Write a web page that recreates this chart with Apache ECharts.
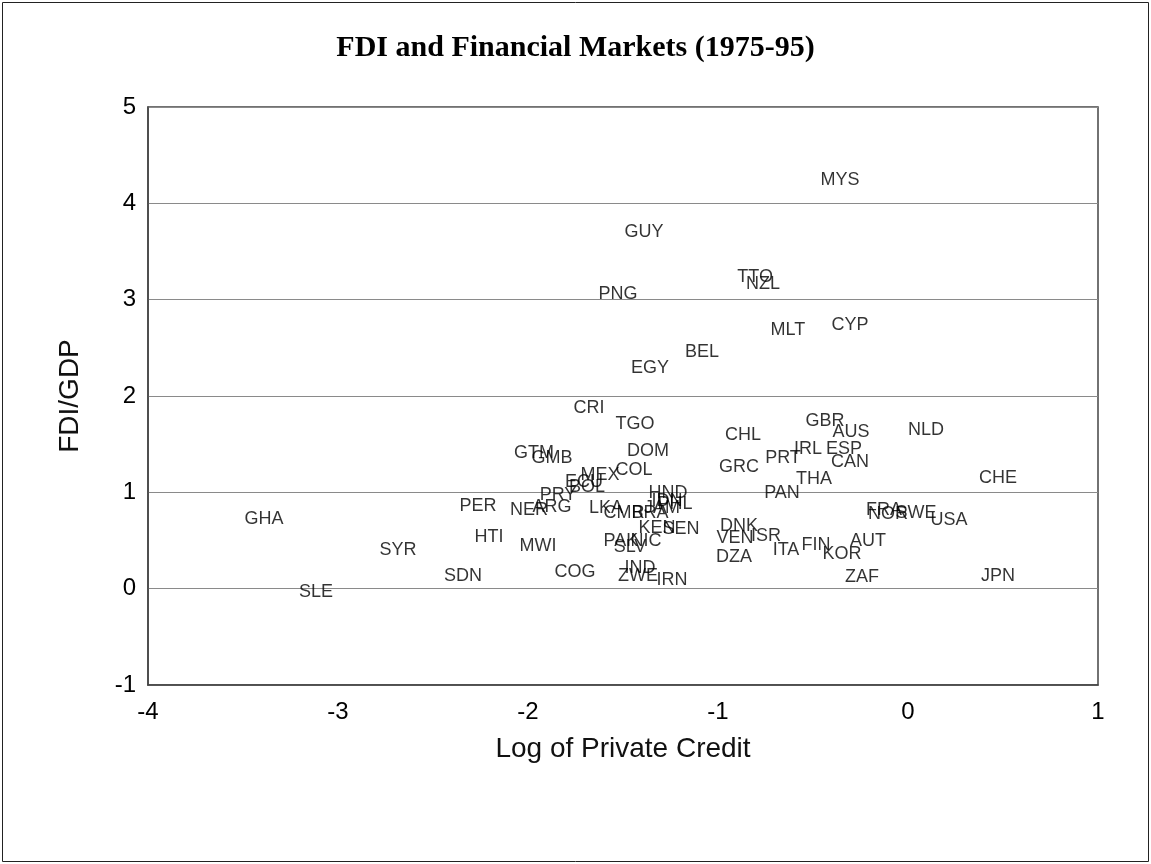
<!DOCTYPE html>
<html>
<head>
<meta charset="utf-8">
<script src="https://cdn.jsdelivr.net/npm/echarts@6/dist/echarts.min.js"></script>
<style>
  html, body { margin: 0; padding: 0; background: #fff; }
  #chart { width: 1151px; height: 864px; }
</style>
</head>
<body>
<div id="chart"></div>
<script>
// country codes and their (log private credit, FDI/GDP) values
const countries = ["MYS", "GUY", "TTO", "NZL", "PNG", "MLT", "CYP", "BEL", "EGY", "CRI",
  "TGO", "GBR", "AUS", "NLD", "CHL", "DOM", "IRL", "ESP", "GTM", "GMB",
  "PRT", "CAN", "GRC", "COL", "MEX", "THA", "CHE", "ECU", "BOL", "PAN",
  "HND", "PRY", "IDN", "PHL", "PER", "ARG", "LKA", "JAM", "NER", "FRA",
  "CMR", "BRA", "NOR", "SWE", "GHA", "USA", "DNK", "KEN", "SEN", "ISR",
  "HTI", "VEN", "PAK", "NIC", "AUT", "FIN", "MWI", "SLV", "ITA", "SYR",
  "KOR", "DZA", "IND", "COG", "JPN", "ZWE", "SDN", "ZAF", "IRN", "SLE"];
const privateCredit = [-0.358, -1.389, -0.805, -0.763, -1.526, -0.632, -0.305, -1.084, -1.358, -1.679,
  -1.437, -0.437, -0.300, 0.095, -0.868, -1.368, -0.526, -0.337, -1.968, -1.874,
  -0.658, -0.305, -0.889, -1.442, -1.621, -0.495, 0.474, -1.705, -1.689, -0.663,
  -1.263, -1.842, -1.268, -1.226, -2.263, -1.874, -1.589, -1.295, -1.995, -0.126,
  -1.495, -1.358, -0.105, 0.042, -3.389, 0.216, -0.889, -1.321, -1.195, -0.747,
  -2.205, -0.911, -1.511, -1.379, -0.211, -0.484, -1.947, -1.463, -0.642, -2.684,
  -0.347, -0.916, -1.411, -1.753, 0.474, -1.421, -2.342, -0.242, -1.242, -3.116];
const fdiGdp = [4.24, 3.70, 3.23, 3.16, 3.06, 2.68, 2.74, 2.46, 2.29, 1.88,
  1.71, 1.74, 1.63, 1.65, 1.60, 1.43, 1.45, 1.45, 1.41, 1.36,
  1.36, 1.31, 1.26, 1.23, 1.18, 1.14, 1.15, 1.11, 1.05, 0.99,
  0.99, 0.97, 0.91, 0.88, 0.86, 0.85, 0.84, 0.84, 0.82, 0.82,
  0.78, 0.78, 0.77, 0.78, 0.72, 0.71, 0.65, 0.63, 0.62, 0.55,
  0.54, 0.53, 0.49, 0.49, 0.49, 0.45, 0.44, 0.43, 0.40, 0.40,
  0.36, 0.33, 0.21, 0.17, 0.13, 0.13, 0.13, 0.12, 0.09, -0.03];

const xTicks = [-4, -3, -2, -1, 0, 1];
const yTicks = [-1, 0, 1, 2, 3, 4, 5];

const points = countries.map((c, i) => ({ name: c, value: [privateCredit[i], fdiGdp[i]] }));

const chart = echarts.init(document.getElementById("chart"), null, { renderer: "canvas" });

const sans = "Liberation Sans, Arial, sans-serif";

const option = {
  backgroundColor: "#fff",
  animation: false,
  title: {
    text: "FDI and Financial Markets (1975-95)",
    left: "center",
    top: 28,
    textStyle: {
      fontFamily: "Liberation Serif, Times New Roman, serif",
      fontWeight: "bold",
      fontSize: 30,
      color: "#000"
    }
  },
  grid: {
    left: 148,
    right: 53,
    top: 107,
    bottom: 179,
    show: true,
    borderColor: "#444",
    borderWidth: 1.5,
    containLabel: false
  },
  xAxis: {
    type: "value",
    min: xTicks[0],
    max: xTicks[xTicks.length - 1],
    interval: 1,
    name: "Log of Private Credit",
    nameLocation: "middle",
    nameGap: 50,
    nameTextStyle: { fontFamily: sans, fontSize: 28, color: "#111" },
    axisLine: { show: true, onZero: false, lineStyle: { color: "#444", width: 1.5 } },
    axisTick: { show: false },
    splitLine: { show: false },
    axisLabel: { fontFamily: sans, fontSize: 24, color: "#000", margin: 15 }
  },
  yAxis: {
    type: "value",
    min: yTicks[0],
    max: yTicks[yTicks.length - 1],
    interval: 1,
    name: "FDI/GDP",
    nameLocation: "middle",
    nameGap: 64,
    nameTextStyle: { fontFamily: sans, fontSize: 28, color: "#111" },
    axisLine: { show: true, onZero: false, lineStyle: { color: "#444", width: 1.5 } },
    axisTick: { show: false },
    splitLine: { show: true, lineStyle: { color: "#8a8a8a", width: 1 } },
    axisLabel: { fontFamily: sans, fontSize: 24, color: "#000", margin: 12 }
  },
  series: [
    {
      type: "scatter",
      data: points,
      symbolSize: 1,
      itemStyle: { color: "rgba(0,0,0,0)" },
      label: {
        show: true,
        position: "inside",
        formatter: (p) => p.name,
        fontFamily: sans,
        fontSize: 18,
        color: "#000"
      },
      labelLayout: { hideOverlap: false }
    }
  ],
  graphic: [
    {
      type: "rect",
      shape: { x: 2.5, y: 2.5, width: 1146, height: 859 },
      style: { fill: "none", stroke: "#222", lineWidth: 1 },
      silent: true
    }
  ]
};

chart.setOption(option);
</script>
</body>
</html>
